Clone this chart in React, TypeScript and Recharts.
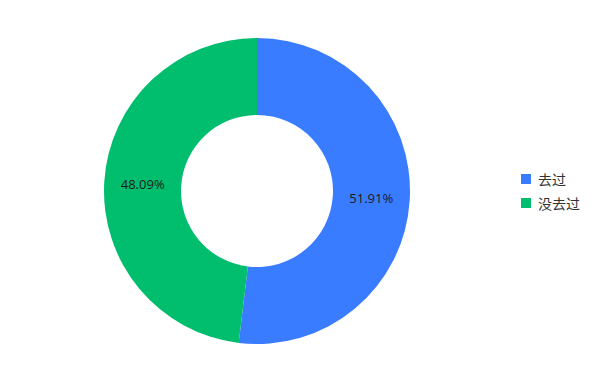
import { PieChart, Pie, Cell, Legend } from "recharts"

const names = ["去过", "没去过"]
const values = [51.91, 48.09]
const colors = ["#3A7CFF", "#00BE6E"]

const data = names.map((name, i) => ({ name, value: values[i] }))

const RADIAN = Math.PI / 180

function renderLabel(props: any) {
  const { cx, cy, midAngle, innerRadius, outerRadius, value } = props
  const r = (innerRadius + outerRadius) / 2
  const x = cx + r * Math.cos(-midAngle * RADIAN)
  const y = cy + r * Math.sin(-midAngle * RADIAN)
  return (
    <text
      x={x}
      y={y}
      fill="#1a1a1a"
      fontSize={13}
      fontFamily="'Open Sans', sans-serif"
      textAnchor="middle"
      dominantBaseline="central"
    >
      {value.toFixed(2)}%
    </text>
  )
}

function LegendBox() {
  return (
    <div style={{ fontFamily: "'Noto Sans CJK SC', sans-serif", fontSize: 14, color: "#333" }}>
      {data.map((d, i) => (
        <div key={d.name} style={{ display: "flex", alignItems: "center", height: 24 }}>
          <span
            style={{ width: 10, height: 10, background: colors[i], marginRight: 7, display: "inline-block" }}
          />
          <span>{d.name}</span>
        </div>
      ))}
    </div>
  )
}

export default function App() {
  return (
    <div style={{ position: "absolute", left: 0, top: 0, width: 600, height: 384, background: "#fff" }}>
      <PieChart width={600} height={384} margin={{ top: 0, right: 0, bottom: 0, left: 0 }}>
        <Pie
          data={data}
          dataKey="value"
          cx={257}
          cy={191}
          innerRadius={76}
          outerRadius={153}
          startAngle={90}
          endAngle={-270}
          stroke="none"
          label={renderLabel}
          labelLine={false}
          isAnimationActive={false}
        >
          {data.map((d, i) => (
            <Cell key={d.name} fill={colors[i]} />
          ))}
        </Pie>
        <Legend
          content={() => <LegendBox />}
          wrapperStyle={{ left: 521, top: 167, width: 80 }}
        />
      </PieChart>
    </div>
  )
}
